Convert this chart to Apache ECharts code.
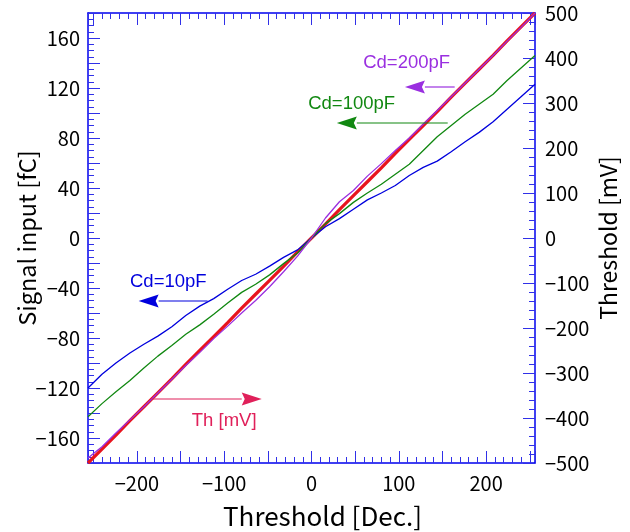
<!DOCTYPE html>
<html>
<head>
<meta charset="utf-8">
<script src="https://cdn.jsdelivr.net/npm/echarts@6/dist/echarts.min.js"></script>
<style>
  html, body { margin: 0; padding: 0; background: #fff; }
  #chart { width: 630px; height: 532px; }
</style>
</head>
<body>
<div id="chart"></div>
<script>
// Threshold DAC setting (decimal)
const thresholdDec = [-256, -240, -224, -208, -192, -176, -160, -144, -128, -112, -96, -80, -64, -48, -32, -16,
  0, 16, 32, 48, 64, 80, 96, 112, 128, 144, 160, 176, 192, 208, 224, 240, 256];

// Equivalent signal input charge [fC] for each detector capacitance
const cd10pF = [-120, -109, -100, -92, -85, -78.5, -71, -62, -54.5, -48.5, -41, -34, -29, -22.5, -15.5, -9.5,
  0, 9, 15.5, 23, 30.5, 36, 42, 50, 56.5, 61.5, 69, 77, 84.5, 93, 103, 113, 123];
const cd100pF = [-143, -132.5, -123, -114, -104, -94.5, -86, -77, -69.5, -61, -52, -43.5, -37, -29.5, -20.5, -12,
  0, 11.5, 19.5, 28.5, 36, 43, 51, 59, 70, 81, 90, 99, 107, 115, 126, 136, 146];
const cd200pF = [-176, -167, -156, -145.5, -135, -124, -113, -102, -91.5, -80.5, -70.5, -60, -50, -39, -27, -14.5,
  0, 16, 29, 38, 49.5, 59.5, 70, 80, 91, 102, 113, 124, 135, 146, 157.5, 168.5, 180];

// Threshold voltage [mV]
const thMv = [-500, -469, -438, -406, -375, -344, -313, -281, -250, -219, -188, -156, -125, -94, -63, -31,
  0, 31, 63, 94, 125, 156, 188, 219, 250, 281, 313, 344, 375, 406, 438, 469, 500];

// Annotation labels: text, colour, text anchor and arrow (from -> to) in [Dec., fC]
const noteText = ['Cd=200pF', 'Cd=100pF', 'Cd=10pF', 'Th [mV]'];
const noteColor = ['#9a2fe0', '#118811', '#0000dd', '#e0205a'];
const noteTextAt = [[109, 140], [46, 107], [-164, -35], [-100, -146.5]];
const noteArrowFrom = [[164, 120.8], [156, 92], [-119, -50.4], [-183, -128.8]];
const noteArrowTo = [[107, 120.8], [29, 92], [-198, -50.4], [-57, -128.8]];

const FONT = '"Noto Sans CJK JP", "Noto Sans", sans-serif';
const NOTE_FONT = '"Liberation Sans", Arial, sans-serif';
const AXIS_BLUE = '#0000ee';
const TICK_BLUE = '#3030e8';

const minus = v => String(v).replace('-', '\u2212');
const pair = ys => thresholdDec.map((x, i) => [x, ys[i]]);

const xAxisBase = {
  type: 'value', min: -256, max: 256, splitNumber: 10,
  axisLine: { show: true, onZero: false, lineStyle: { color: AXIS_BLUE, width: 1.5 } },
  axisTick: { show: true, inside: true, length: 12, lineStyle: { color: TICK_BLUE, width: 1 } },
  minorTick: { show: true, splitNumber: 5, length: 6, lineStyle: { color: TICK_BLUE, width: 1 } },
  splitLine: { show: false }
};

const chart = echarts.init(document.getElementById('chart'), null, { renderer: 'canvas' });

chart.setOption({
  animation: false,
  backgroundColor: '#fff',
  grid: { left: 88, right: 95, top: 13, bottom: 69, containLabel: false, outerBoundsMode: 'none' },
  xAxis: [
    Object.assign({}, xAxisBase, {
      position: 'bottom',
      name: 'Threshold [Dec.]', nameLocation: 'middle', nameGap: 40, nameMoveOverlap: false,
      nameTextStyle: { fontFamily: FONT, fontSize: 26, color: '#000', padding: [0, 0, 0, 22] },
      axisLabel: {
        margin: 10, fontFamily: FONT, fontSize: 20, color: '#000',
        formatter: v => (v % 100 === 0 ? minus(v) : '')
      }
    }),
    Object.assign({}, xAxisBase, { position: 'top', axisLabel: { show: false } })
  ],
  yAxis: [
    {
      type: 'value', position: 'left', min: -180, max: 180, interval: 20,
      name: 'Signal input [fC]', nameLocation: 'middle', nameGap: 49, nameRotate: 90, nameMoveOverlap: false,
      nameTextStyle: { fontFamily: FONT, fontSize: 23.5, color: '#000' },
      axisLine: { show: true, onZero: false, lineStyle: { color: AXIS_BLUE, width: 1.5 } },
      axisTick: { show: true, inside: true, length: 12, lineStyle: { color: TICK_BLUE, width: 1 } },
      minorTick: { show: true, splitNumber: 4, length: 6, lineStyle: { color: TICK_BLUE, width: 1 } },
      splitLine: { show: false },
      axisLabel: {
        margin: 8, fontFamily: FONT, fontSize: 20, color: '#000',
        formatter: v => (v % 40 === 0 ? minus(v) : '')
      }
    },
    {
      type: 'value', position: 'right', min: -500, max: 500, interval: 100,
      name: 'Threshold [mV]', nameLocation: 'middle', nameGap: 62, nameRotate: 90, nameMoveOverlap: false,
      nameTextStyle: { fontFamily: FONT, fontSize: 23, color: '#000' },
      axisLine: { show: true, onZero: false, lineStyle: { color: AXIS_BLUE, width: 1.5 } },
      axisTick: { show: true, inside: true, length: 12, lineStyle: { color: TICK_BLUE, width: 1 } },
      minorTick: { show: true, splitNumber: 5, length: 6, lineStyle: { color: TICK_BLUE, width: 1 } },
      splitLine: { show: false },
      axisLabel: {
        margin: 10, fontFamily: FONT, fontSize: 20, color: '#000',
        formatter: v => minus(v)
      }
    }
  ],
  series: [
    {
      name: 'Th [mV]', type: 'line', xAxisIndex: 0, yAxisIndex: 1, data: pair(thMv),
      showSymbol: false, lineStyle: { color: '#e8141e', width: 3.2 }, z: 2
    },
    {
      name: 'Cd=10pF', type: 'line', xAxisIndex: 0, yAxisIndex: 0, data: pair(cd10pF),
      showSymbol: false, lineStyle: { color: noteColor[2], width: 1.3 }, z: 3
    },
    {
      name: 'Cd=100pF', type: 'line', xAxisIndex: 0, yAxisIndex: 0, data: pair(cd100pF),
      showSymbol: false, lineStyle: { color: noteColor[1], width: 1.3 }, z: 3
    },
    {
      name: 'Cd=200pF', type: 'line', xAxisIndex: 0, yAxisIndex: 0, data: pair(cd200pF),
      showSymbol: false, lineStyle: { color: noteColor[0], width: 1.3 }, z: 3
    }
  ]
});

// Arrow annotations, placed through the axes' own coordinate conversion
const toPx = p => chart.convertToPixel({ xAxisIndex: 0, yAxisIndex: 0 }, p);
const graphics = [];
noteText.forEach((t, i) => {
  const a = toPx(noteArrowFrom[i]);
  const b = toPx(noteArrowTo[i]);
  const dir = Math.sign(b[0] - a[0]);
  const headLen = 20, headHalf = 6.5;
  const base = b[0] - dir * headLen;
  graphics.push({
    type: 'line', shape: { x1: a[0], y1: a[1], x2: base, y2: b[1] },
    style: { stroke: noteColor[i], lineWidth: 1.2 }, z: 10
  });
  graphics.push({
    type: 'polygon',
    shape: { points: [[b[0], b[1]], [base, b[1] - headHalf], [base + dir * 3, b[1]], [base, b[1] + headHalf]] },
    style: { fill: noteColor[i] }, z: 10
  });
  const tp = toPx(noteTextAt[i]);
  graphics.push({
    type: 'text', x: tp[0], y: tp[1],
    style: { text: t, fill: noteColor[i], font: '18.5px ' + NOTE_FONT, align: 'center', verticalAlign: 'middle' },
    z: 10
  });
});
chart.setOption({ graphic: graphics });
</script>
</body>
</html>
